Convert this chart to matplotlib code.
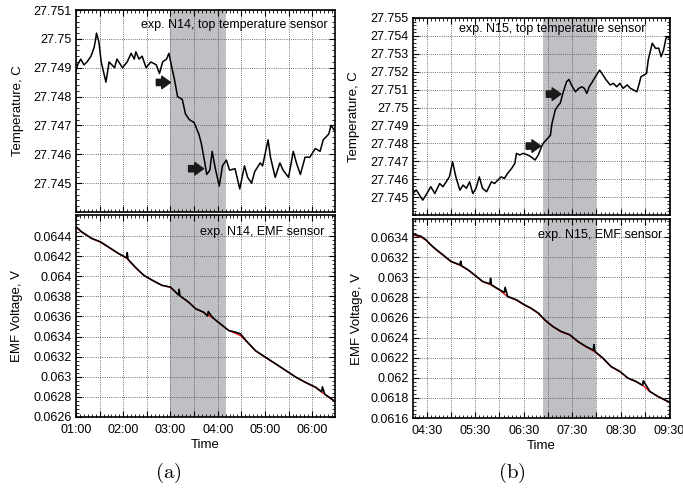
import matplotlib
matplotlib.use('Agg')
import matplotlib.pyplot as plt
from matplotlib.ticker import MultipleLocator, AutoMinorLocator, FuncFormatter

plt.rcParams['font.family'] = ['Liberation Sans', 'DejaVu Sans']
plt.rcParams['mathtext.fontset'] = 'cm'

# --- experiment N14 ---
n14_temp_time = ['01:00', '01:02', '01:06', '01:10', '01:14', '01:19', '01:23', '01:25', '01:26', '01:29',
                 '01:32', '01:38', '01:42', '01:49', '01:52', '01:59', '02:05', '02:10', '02:14', '02:16',
                 '02:20', '02:24', '02:29', '02:35', '02:42', '02:46', '02:50', '02:55', '02:58', '03:01',
                 '03:05', '03:09', '03:15', '03:19', '03:24', '03:30', '03:36', '03:39', '03:43', '03:46',
                 '03:50', '03:53', '03:57', '04:02', '04:06', '04:11', '04:15', '04:22', '04:28', '04:34',
                 '04:38', '04:43', '04:47', '04:54', '04:57', '05:04', '05:07', '05:13', '05:19', '05:23',
                 '05:30', '05:36', '05:40', '05:45', '05:51', '05:57', '06:04', '06:10', '06:14', '06:21',
                 '06:24', '06:29']
n14_temp = [27.7489, 27.7491, 27.7493, 27.7491, 27.7492, 27.7494, 27.7497, 27.7500, 27.7502, 27.7499,
            27.7492, 27.7485, 27.7492, 27.7490, 27.7493, 27.7490, 27.7492, 27.7495, 27.7493, 27.74955,
            27.7493, 27.7494, 27.7490, 27.7492, 27.7491, 27.7488, 27.7492, 27.7493, 27.7495, 27.7491,
            27.7486, 27.7480, 27.7479, 27.7474, 27.7472, 27.7471, 27.7467, 27.7464, 27.7458, 27.7453,
            27.74545, 27.7461, 27.7455, 27.7449, 27.7456, 27.7458, 27.74545, 27.7455, 27.7448, 27.7456,
            27.7452, 27.7450, 27.7454, 27.7457, 27.7456, 27.7465, 27.7459, 27.7452, 27.7457, 27.74545,
            27.7452, 27.7461, 27.7457, 27.7453, 27.7459, 27.7459, 27.7462, 27.7461, 27.7465, 27.7467,
            27.7470, 27.7468]

n14_emf_time = ['01:00', '01:07', '01:20', '01:31', '01:41', '01:54', '02:04', '02:05', '02:06', '02:15',
                '02:26', '02:37', '02:49', '03:00', '03:10', '03:11', '03:12', '03:23', '03:32', '03:42',
                '03:47', '03:48', '03:53', '04:06', '04:14', '04:23', '04:29', '04:36', '04:48', '05:01',
                '05:14', '05:27', '05:40', '05:52', '06:05', '06:12', '06:13', '06:16', '06:28']
n14_emf = [0.064493, 0.064443, 0.064377, 0.064343, 0.064293, 0.064227, 0.064185, 0.064235, 0.064170, 0.064093,
           0.064010, 0.063960, 0.063910, 0.063893, 0.063815, 0.063870, 0.063805, 0.063743, 0.063677, 0.063643,
           0.063605, 0.063650, 0.063593, 0.063510, 0.063460, 0.063443, 0.063427, 0.063360, 0.063260, 0.063193,
           0.063127, 0.063060, 0.062993, 0.062943, 0.062893, 0.062850, 0.062900, 0.062827, 0.062760]

n14_fit_time = ['01:00', '01:07', '01:20', '01:31', '01:41', '01:54', '02:05', '02:15', '02:26', '02:37',
                '02:49', '03:00', '03:11', '03:23', '03:32', '03:42', '03:53', '04:06', '04:14', '04:23',
                '04:29', '04:36', '04:48', '05:01', '05:14', '05:27', '05:40', '05:52', '06:05', '06:16',
                '06:28']
n14_fit = [0.064490, 0.064440, 0.064375, 0.064340, 0.064290, 0.064225, 0.064175, 0.064090, 0.064010, 0.063960,
           0.063912, 0.063888, 0.063812, 0.063742, 0.063677, 0.063640, 0.063590, 0.063508, 0.063462, 0.063430,
           0.063410, 0.063355, 0.063258, 0.063190, 0.063125, 0.063058, 0.062992, 0.062940, 0.062890, 0.062825,
           0.062758]

# --- experiment N15 ---
n15_temp_time = ['04:13', '04:17', '04:25', '04:29', '04:35', '04:40', '04:46', '04:50', '04:54', '04:58',
                 '05:02', '05:06', '05:11', '05:15', '05:19', '05:23', '05:27', '05:31', '05:35', '05:39',
                 '05:44', '05:50', '05:54', '05:58', '06:02', '06:06', '06:10', '06:15', '06:19', '06:21',
                 '06:25', '06:29', '06:35', '06:39', '06:44', '06:48', '06:52', '06:54', '06:58', '07:03',
                 '07:05', '07:09', '07:13', '07:15', '07:19', '07:23', '07:26', '07:29', '07:34', '07:38',
                 '07:42', '07:45', '07:48', '07:51', '07:55', '08:00', '08:04', '08:08', '08:12', '08:17',
                 '08:21', '08:25', '08:29', '08:33', '08:38', '08:42', '08:46', '08:50', '08:53', '08:55',
                 '08:59', '09:02', '09:04', '09:09', '09:13', '09:17', '09:20', '09:23', '09:26', '09:29',
                 '09:31']
n15_temp = [27.74521, 27.7454, 27.74483, 27.74511, 27.74558, 27.7452, 27.74576, 27.74558, 27.74585, 27.74613,
            27.74697, 27.74613, 27.74539, 27.74567, 27.74549, 27.74585, 27.7452, 27.74549, 27.74613, 27.74549,
            27.7453, 27.74585, 27.74576, 27.74595, 27.74613, 27.74604, 27.74632, 27.7466, 27.74688, 27.74744,
            27.74735, 27.74744, 27.74735, 27.74725, 27.74707, 27.74735, 27.74781, 27.74800, 27.7482, 27.74845,
            27.74912, 27.74986, 27.75014, 27.75023, 27.75088, 27.75144, 27.75157, 27.75126, 27.75088, 27.75107,
            27.75116, 27.75107, 27.75079, 27.75116, 27.75144, 27.75182, 27.75209, 27.75182, 27.75154, 27.75126,
            27.75135, 27.75116, 27.75135, 27.75107, 27.75126, 27.75107, 27.75098, 27.75088, 27.75135, 27.75172,
            27.75182, 27.75191, 27.75265, 27.75359, 27.75331, 27.75331, 27.75284, 27.75321, 27.75387, 27.75396,
            27.75377]

n15_emf_time = ['04:13', '04:23', '04:29', '04:35', '04:42', '04:50', '05:00', '05:11', '05:12', '05:13',
                '05:21', '05:29', '05:39', '05:48', '05:49', '05:50', '06:00', '06:06', '06:07', '06:10',
                '06:21', '06:31', '06:39', '06:48', '06:56', '07:06', '07:16', '07:27', '07:37', '07:47',
                '07:56', '07:57', '07:58', '08:08', '08:18', '08:29', '08:39', '08:49', '08:57', '08:58',
                '09:06', '09:16', '09:31']
n15_emf = [0.063430, 0.063407, 0.063373, 0.063323, 0.063274, 0.063224, 0.063158, 0.063124, 0.063160, 0.063115,
           0.063075, 0.063025, 0.062959, 0.062935, 0.062990, 0.062925, 0.062876, 0.062850, 0.062900, 0.062810,
           0.062776, 0.062726, 0.062693, 0.062644, 0.062577, 0.062511, 0.062462, 0.062428, 0.062362, 0.062312,
           0.062275, 0.062330, 0.062263, 0.062196, 0.062113, 0.062063, 0.061997, 0.061964, 0.061925, 0.061970,
           0.061865, 0.061815, 0.061755]

n15_fit_time = ['04:13', '04:23', '04:29', '04:35', '04:42', '04:50', '05:00', '05:11', '05:21', '05:29',
                '05:39', '05:50', '06:00', '06:10', '06:21', '06:31', '06:39', '06:48', '06:56', '07:06',
                '07:16', '07:27', '07:37', '07:47', '07:58', '08:08', '08:18', '08:29', '08:39', '08:49',
                '08:58', '09:06', '09:16', '09:31']
n15_fit = [0.063420, 0.063400, 0.063368, 0.063320, 0.063270, 0.063220, 0.063155, 0.063120, 0.063072, 0.063022,
           0.062957, 0.062922, 0.062872, 0.062808, 0.062772, 0.062722, 0.062690, 0.062640, 0.062573, 0.062508,
           0.062458, 0.062425, 0.062358, 0.062308, 0.062258, 0.062192, 0.062110, 0.062060, 0.061995, 0.061960,
           0.061920, 0.061862, 0.061812, 0.061752]


def hours(stamps):
    return [int(s[:2]) + int(s[3:]) / 60 for s in stamps]


def time_formatter(label_minute):
    def fmt(x, pos):
        m = int(round(x * 60))
        if m % 60 != label_minute:
            return ''
        return f'{m // 60:02d}:{m % 60:02d}'
    return FuncFormatter(fmt)


def style_axes(ax, yticks, label_minute):
    ax.xaxis.set_major_locator(MultipleLocator(0.5))
    ax.xaxis.set_minor_locator(MultipleLocator(1 / 12))
    ax.xaxis.set_major_formatter(time_formatter(label_minute))
    ax.set_yticks(yticks)
    ax.yaxis.set_minor_locator(AutoMinorLocator(5))
    ax.yaxis.set_major_formatter(FuncFormatter(lambda v, p: f'{v:g}'))
    ax.tick_params(direction='in', top=True, right=True, length=4, width=0.8, labelsize=9, pad=3)
    ax.tick_params(which='minor', direction='in', top=True, right=True, length=2, width=0.6)
    ax.tick_params(axis='x', pad=5)
    ax.grid(True, color='#444444', linestyle=(0, (1, 1.6)), linewidth=0.6)
    for sp in ax.spines.values():
        sp.set_linewidth(1.2)


def arrow(ax, t0, t1, y):
    ax.annotate('', xy=(hours([t1])[0], y), xytext=(hours([t0])[0], y),
                arrowprops=dict(arrowstyle='simple,head_length=0.7,head_width=1.0,tail_width=0.5',
                                color='#1a1a1a', shrinkA=0, shrinkB=0, mutation_scale=9))


shade = '#bfc0c4'
fig = plt.figure(figsize=(6.83, 4.93), dpi=100)

# (a) N14
ax1 = fig.add_axes([0.1113, 0.5700, 0.3792, 0.4097])
ax2 = fig.add_axes([0.1113, 0.1542, 0.3792, 0.4097], sharex=ax1)
for ax in (ax1, ax2):
    ax.axvspan(*hours(['03:00', '04:10']), color=shade, lw=0, zorder=0)
ax1.plot(hours(n14_temp_time), n14_temp, color='black', lw=1.1)
ax2.plot(hours(n14_fit_time), n14_fit, color='red', lw=0.9)
ax2.plot(hours(n14_emf_time), n14_emf, color='black', lw=1.2)
ax1.set_xlim(*hours(['01:00', '06:29']))
ax1.set_ylim(27.744, 27.751)
ax2.set_ylim(0.0626, 0.06461)
style_axes(ax1, [27.745, 27.746, 27.747, 27.748, 27.749, 27.750, 27.751], 0)
style_axes(ax2, [0.0626, 0.0628, 0.0630, 0.0632, 0.0634, 0.0636, 0.0638, 0.0640, 0.0642, 0.0644], 0)
ax1.tick_params(labelbottom=False)
ax1.set_ylabel('Temperature, C', fontsize=9.5)
ax2.set_ylabel('EMF Voltage, V', fontsize=9.5)
ax2.set_xlabel('Time', fontsize=9.5, labelpad=2)
ax1.yaxis.set_label_coords(-0.20, 0.5)
ax2.yaxis.set_label_coords(-0.205, 0.5)
ax1.text(0.973, 0.925, 'exp. N14, top temperature sensor', transform=ax1.transAxes,
         ha='right', va='center', fontsize=9)
ax2.text(0.958, 0.915, 'exp. N14, EMF sensor', transform=ax2.transAxes,
         ha='right', va='center', fontsize=9)
arrow(ax1, '02:42', '03:00', 27.74849)
arrow(ax1, '03:23', '03:42', 27.74550)

# (b) N15
ax3 = fig.add_axes([0.6047, 0.5639, 0.3763, 0.3996])
ax4 = fig.add_axes([0.6047, 0.1521, 0.3763, 0.4037], sharex=ax3)
for ax in (ax3, ax4):
    ax.axvspan(*hours(['06:54', '08:00']), color=shade, lw=0, zorder=0)
ax3.plot(hours(n15_temp_time), n15_temp, color='black', lw=1.1)
ax4.plot(hours(n15_fit_time), n15_fit, color='red', lw=0.9)
ax4.plot(hours(n15_emf_time), n15_emf, color='black', lw=1.2)
ax3.set_xlim(*hours(['04:13', '09:31']))
ax3.set_ylim(27.744, 27.755)
ax4.set_ylim(0.0616, 0.06358)
style_axes(ax3, [27.745, 27.746, 27.747, 27.748, 27.749, 27.750, 27.751, 27.752, 27.753, 27.754, 27.755], 30)
style_axes(ax4, [0.0616, 0.0618, 0.0620, 0.0622, 0.0624, 0.0626, 0.0628, 0.0630, 0.0632, 0.0634], 30)
ax3.tick_params(labelbottom=False)
ax3.set_ylabel('Temperature, C', fontsize=9.5)
ax4.set_ylabel('EMF Voltage, V', fontsize=9.5)
ax4.set_xlabel('Time', fontsize=9.5, labelpad=2)
ax3.yaxis.set_label_coords(-0.205, 0.5)
ax4.yaxis.set_label_coords(-0.195, 0.5)
ax3.text(0.903, 0.944, 'exp. N15, top temperature sensor', transform=ax3.transAxes,
         ha='right', va='center', fontsize=9)
ax4.text(0.97, 0.921, 'exp. N15, EMF sensor', transform=ax4.transAxes,
         ha='right', va='center', fontsize=9)
arrow(ax3, '06:33', '06:51', 27.74785)
arrow(ax3, '06:58', '07:16', 27.75075)

fig.text(0.246, 0.04, r'$\mathrm{(a)}$', ha='center', va='center', fontsize=15)
fig.text(0.749, 0.04, r'$\mathrm{(b)}$', ha='center', va='center', fontsize=15)

fig.savefig('out.png', dpi=100)
